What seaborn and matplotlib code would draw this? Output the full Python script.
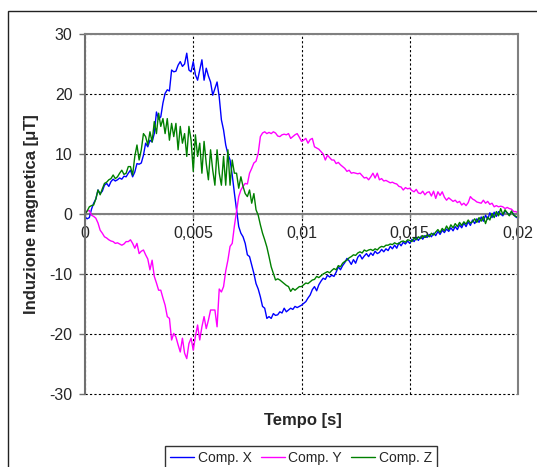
import numpy as np
import pandas as pd
import matplotlib
matplotlib.use("Agg")
import matplotlib.pyplot as plt
from matplotlib.patches import Rectangle
import seaborn as sns

# time samples: 0 .. 0.02 s every 0.1 ms
time_s = np.arange(201) * 1e-4

comp_x = [
    -0.5, -0.8, -0.6, 0.8, 1.8, 2.5, 4.0, 3.4, 3.8, 4.8,
    5.1, 4.6, 5.4, 5.8, 5.5, 5.7, 6.0, 5.8, 6.3, 6.2,
    6.8, 7.3, 6.2, 7.0, 8.4, 8.3, 8.5, 9.8, 11.8, 11.2,
    12.3, 12.0, 13.4, 17.0, 15.8, 16.2, 18.5, 20.1, 20.7, 20.5,
    24.0, 23.7, 23.8, 24.8, 25.4, 24.6, 25.0, 26.8, 24.0, 23.7,
    25.4, 23.2, 22.3, 24.0, 25.7, 22.3, 24.3, 23.0, 22.0, 19.8,
    20.9, 22.0, 19.5, 15.7, 14.0, 11.5, 10.0, 9.0, 6.5, 3.5,
    0.7, -2.1, -3.2, -3.8, -4.9, -6.8, -7.1, -8.5, -9.9, -11.6,
    -12.5, -13.8, -15.4, -15.7, -17.4, -17.1, -17.4, -16.6, -16.9, -16.8,
    -16.3, -16.5, -15.7, -16.3, -16.0, -15.7, -15.9, -15.4, -15.6, -15.4,
    -15.2, -14.9, -14.6, -14.0, -13.5, -12.6, -12.1, -12.8, -11.8, -11.2,
    -10.7, -10.9, -10.2, -10.5, -10.2, -10.4, -9.7, -8.8, -9.3, -8.6,
    -8.1, -7.4, -7.8, -8.4, -7.6, -8.2, -7.2, -6.8, -7.5, -7.0,
    -6.6, -7.1, -6.5, -6.9, -6.2, -6.6, -6.4, -5.9, -6.3, -5.8,
    -6.1, -5.4, -5.8, -5.2, -5.7, -4.8, -5.3, -4.7, -5.0, -4.5,
    -4.9, -4.2, -4.6, -4.0, -4.4, -3.8, -4.2, -3.6, -3.9, -3.4,
    -3.8, -3.2, -3.6, -2.9, -3.4, -2.7, -3.1, -2.5, -2.9, -2.3,
    -2.8, -2.1, -2.6, -1.8, -2.3, -1.5, -2.1, -1.3, -1.9, -1.0,
    -1.6, -0.8, -1.4, -0.5, -1.2, -0.2, -0.9, 0.2, -0.6, 0.3,
    -0.4, 0.4, 0.0, -0.3, 0.5, 0.2, -0.2, 0.4, -0.1, -0.5, -0.7,
]

comp_y = [
    0.0, 0.5, 0.6, -0.2, -0.4, -0.7, -1.5, -2.7, -3.2, -3.8,
    -4.0, -4.3, -4.5, -4.6, -4.9, -4.8, -5.0, -5.2, -5.0, -4.6,
    -4.6, -4.3, -4.9, -5.7, -4.9, -6.6, -6.2, -6.0, -6.8, -7.5,
    -9.3, -7.7, -10.4, -11.5, -12.7, -12.7, -14.0, -15.2, -17.1, -17.4,
    -21.0, -19.9, -20.5, -21.8, -23.0, -20.7, -23.2, -24.1, -21.6, -20.7,
    -22.7, -20.4, -18.5, -21.0, -18.8, -17.1, -19.1, -17.7, -16.0, -16.0,
    -16.0, -18.8, -12.5, -13.0, -12.1, -9.5, -7.7, -5.4, -4.9, -2.0,
    0.5, 2.9, 4.0, 4.6, 5.1, 5.0, 6.8, 7.6, 8.5, 8.8,
    10.1, 12.9, 13.5, 13.7, 13.4, 13.6, 13.4, 13.7, 13.5, 13.0,
    12.9, 13.2, 13.3, 13.2, 13.4, 12.6, 12.9, 13.2, 13.4, 12.8,
    12.1, 12.3, 12.6, 11.8, 12.4, 12.6, 11.2, 11.0, 10.8, 10.4,
    10.0, 9.0, 9.8, 9.4, 9.0, 9.0, 8.4, 8.6, 8.2, 7.9,
    7.6, 7.1, 7.3, 6.8, 6.9, 6.8, 6.7, 6.8, 6.4, 6.0,
    6.1, 5.7, 6.2, 6.8, 6.0, 6.8, 5.7, 5.9, 5.5, 5.6,
    5.4, 5.2, 5.3, 5.1, 5.0, 4.6, 4.5, 4.0, 4.4, 4.2,
    4.3, 3.9, 3.7, 4.1, 3.5, 3.4, 3.8, 3.2, 3.6, 3.7,
    3.0, 3.8, 2.6, 3.7, 3.1, 3.7, 2.8, 2.3, 2.7, 2.4,
    2.1, 2.3, 1.9, 2.1, 1.5, 1.8, 1.4, 1.9, 2.9, 2.5,
    2.3, 2.0, 1.9, 1.8, 2.3, 1.8, 2.1, 1.6, 1.8, 1.2,
    1.4, 1.2, 1.3, 1.2, 0.9, 1.1, 0.9, 0.8, 0.4, 0.4, 0.2,
]

comp_z = [
    0.0, 0.5, 1.2, 1.4, 1.5, 2.5, 4.0, 3.2, 4.2, 5.1,
    5.3, 5.7, 5.9, 6.5, 5.9, 6.2, 6.8, 7.3, 6.6, 6.8,
    7.9, 7.9, 6.5, 9.6, 11.5, 9.0, 10.7, 13.4, 12.9, 11.5,
    13.7, 12.0, 15.4, 13.4, 16.8, 14.6, 15.9, 13.4, 15.9, 12.3,
    15.1, 12.9, 15.1, 10.7, 14.6, 11.8, 13.4, 9.6, 14.6, 12.3,
    7.1, 13.2, 9.6, 11.8, 6.8, 12.1, 8.4, 5.7, 10.7, 7.3,
    4.8, 10.7, 6.8, 4.8, 9.6, 4.8, 10.7, 4.8, 9.0, 6.8,
    6.8, 4.3, 6.2, 4.6, 3.4, 2.9, 4.0, 1.8, 3.4, 0.7,
    -0.2, -1.8, -3.2, -4.3, -5.5, -7.1, -8.8, -9.9, -11.0, -10.8,
    -11.0, -11.3, -11.6, -11.9, -12.1, -12.9, -12.4, -12.7, -12.4, -12.1,
    -12.1, -11.8, -11.5, -11.6, -11.3, -11.0, -10.9, -10.4, -10.6, -10.3,
    -10.0, -9.8, -9.6, -9.8, -9.4, -9.1, -9.3, -8.6, -8.8, -8.2,
    -7.9, -7.7, -7.3, -7.1, -6.8, -6.9, -6.5, -6.3, -6.5, -6.0,
    -6.2, -6.0, -5.9, -6.1, -5.8, -6.0, -5.6, -5.4, -5.5, -5.2,
    -5.2, -5.0, -5.1, -4.8, -5.0, -4.9, -4.6, -4.5, -4.7, -4.3,
    -4.4, -4.6, -4.0, -4.3, -3.8, -4.1, -3.6, -3.9, -3.5, -3.8,
    -3.2, -3.5, -3.0, -2.6, -3.1, -2.4, -2.8, -2.0, -2.6, -1.8,
    -2.3, -1.6, -2.1, -1.4, -1.9, -1.3, -1.7, -1.0, -1.5, -1.3,
    -0.8, -1.4, -0.6, -1.2, -0.4, -1.6, -0.5, -1.0, 0.1, -0.6,
    0.4, -0.3, 0.9, -0.1, 0.7, 0.2, -0.3, 0.5, -0.2, -0.4, -0.5,
]

series_names = ["Comp. X", "Comp. Y", "Comp. Z"]
series_colors = ["#0000FF", "#FF00FF", "#008000"]
x_ticks = [0, 0.005, 0.01, 0.015, 0.02]
x_ticklabels = ["0", "0,005", "0,01", "0,015", "0,02"]
y_ticks = [-30, -20, -10, 0, 10, 20, 30]

df = pd.concat([
    pd.DataFrame({"t": time_s, "B": vals, "comp": name})
    for name, vals in zip(series_names, [comp_x, comp_y, comp_z])
], ignore_index=True)

sns.set_style("white")
plt.rcParams["font.family"] = ["Liberation Sans", "DejaVu Sans"]
plt.rcParams["axes.unicode_minus"] = False

fig = plt.figure(figsize=(5.37, 4.67), dpi=100)
W, H = 537, 467
ax = fig.add_axes([85 / W, 1 - 394 / H, (518 - 85) / W, (394 - 34) / H])

# outer chart border
fig.patches.append(Rectangle((8 / W, -0.2), 1.2, 1.2 - 11 / H,
                             transform=fig.transFigure, fill=False,
                             edgecolor="#222222", linewidth=1.0, zorder=0))

sns.lineplot(data=df, x="t", y="B", hue="comp", palette=series_colors,
             hue_order=series_names, linewidth=1.0, ax=ax, legend=True,
             estimator=None, sort=False)

ax.set_xlim(0, 0.02)
ax.set_ylim(-30, 30)
ax.set_xticks(x_ticks)
ax.set_xticklabels(x_ticklabels)
ax.set_yticks(y_ticks)

ax.grid(True, color="black", linestyle=(0, (2, 2)), linewidth=0.8)
ax.set_axisbelow(True)
for gl in ax.get_ygridlines():
    gl.set_clip_on(False)

ax.spines["bottom"].set_position(("data", 0))
for s in ["top", "right"]:
    ax.spines[s].set_color("#808080")
    ax.spines[s].set_linewidth(1.5)
ax.spines["left"].set_color("#707070")
ax.spines["left"].set_linewidth(1.5)
ax.spines["bottom"].set_color("#808080")
ax.spines["bottom"].set_linewidth(1.5)
ax.spines["bottom"].set_zorder(1.5)

ax.tick_params(axis="y", direction="out", length=4, width=1, color="#707070",
               labelsize=11.5, pad=5, left=True)
ax.tick_params(axis="x", direction="out", length=3, width=1, color="#808080",
               labelsize=11.5, pad=6, bottom=True)

ax.set_xlabel("")
ax.set_ylabel("")
fig.text(303 / W, 1 - 421 / H, "Tempo [s]", ha="center", va="center",
         fontsize=12, fontweight="bold")
fig.text(32 / W, 1 - 214 / H, "Induzione magnetica [μT]", ha="center",
         va="center", rotation=90, fontsize=12, fontweight="bold")

handles, labels = ax.get_legend_handles_labels()
ax.get_legend().remove()
leg = fig.legend(handles, labels, loc="upper center", ncol=3,
                 bbox_to_anchor=(301 / W, 1 - 446 / H), frameon=True,
                 fancybox=False, edgecolor="black", fontsize=10,
                 handlelength=1.75, handletextpad=0.25, columnspacing=0.65,
                 borderpad=0.35, borderaxespad=0)
leg.get_frame().set_linewidth(1.0)

fig.savefig("out.png", dpi=100)
